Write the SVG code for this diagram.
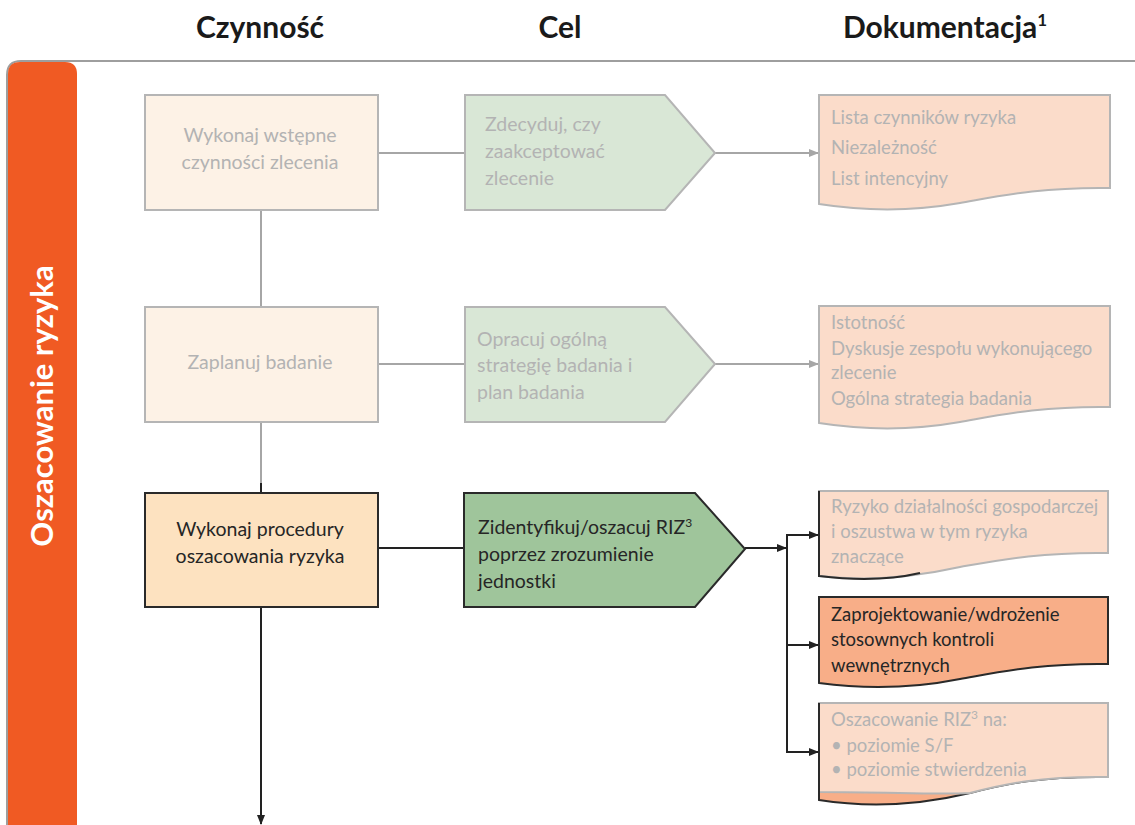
<svg xmlns="http://www.w3.org/2000/svg" width="1135" height="825" viewBox="0 0 1135 825">
  <defs>
    <marker id="arrGray" markerWidth="10" markerHeight="8" refX="9" refY="4" orient="auto" markerUnits="userSpaceOnUse">
      <path d="M0,0 L10,4 L0,8 Z" fill="#a6a6a6"/>
    </marker>
    <marker id="arrDark" markerWidth="10" markerHeight="8" refX="9" refY="4" orient="auto" markerUnits="userSpaceOnUse">
      <path d="M0,0 L10,4 L0,8 Z" fill="#222"/>
    </marker>
  </defs>
  <style>
    .hdr { font-family: Lato, "Open Sans", sans-serif; font-weight: 700; font-size: 30px; fill: #1a1a1a; }
    .t { font-family: Lato, "Open Sans", sans-serif; font-size: 19.5px; }
    .d { font-family: Lato, "Open Sans", sans-serif; font-size: 18.5px; }
    .faded { fill: #b3b3b3; }
    .dark { fill: #262626; }
    .boxFaded { fill: #fdf2e6; stroke: #b5b5b5; stroke-width: 2; }
    .penFaded { fill: #d9e7d6; stroke: #b5b5b5; stroke-width: 2; }
    .docFaded { fill: #fbdcca; stroke: #b5b5b5; stroke-width: 2; }
    .boxActive { fill: #fde2c0; stroke: #2a2a2a; stroke-width: 2; }
    .penActive { fill: #9fc59b; stroke: #2a2a2a; stroke-width: 2; }
    .docActive { fill: #f8ae88; stroke: #2a2a2a; stroke-width: 2; }
    .edge { fill: none; stroke: #2a2a2a; stroke-width: 2; }
    .lnGray { stroke: #a6a6a6; stroke-width: 2; fill: none; }
    .lnDark { stroke: #222; stroke-width: 2; fill: none; }
  </style>

  <rect width="1135" height="825" fill="#ffffff"/>

  <!-- column headers -->
  <g id="headers">
    <text class="hdr" x="260" y="38" text-anchor="middle">Czynność</text>
    <text class="hdr" x="560" y="38" text-anchor="middle">Cel</text>
    <text class="hdr" x="945" y="38" text-anchor="middle">Dokumentacja<tspan font-size="17" dy="-12">1</tspan></text>
  </g>

  <!-- frame and phase bar -->
  <g id="phase">
    <path d="M1140,61 H21 Q7,61 7,75 V830" fill="none" stroke="#9e9e9e" stroke-width="2"/>
    <path d="M8,825 V74 Q8,62 20,62 H65 Q77,62 77,74 V825 Z" fill="#f05a23"/>
    <text x="0" y="0" transform="translate(53,406) rotate(-90)" text-anchor="middle" font-family="Lato, 'Open Sans', sans-serif" font-weight="700" font-size="31" fill="#ffffff">Oszacowanie ryzyka</text>
  </g>

  <!-- connectors -->
  <g id="connectors">
    <line class="lnGray" x1="378" y1="153" x2="465" y2="153"/>
    <line class="lnGray" x1="715" y1="153" x2="818" y2="153" marker-end="url(#arrGray)"/>
    <line class="lnGray" x1="261" y1="210" x2="261" y2="307"/>
    <line class="lnGray" x1="378" y1="364" x2="465" y2="364"/>
    <line class="lnGray" x1="715" y1="364" x2="818" y2="364" marker-end="url(#arrGray)"/>
    <line class="lnGray" x1="261" y1="422" x2="261" y2="484"/>
    <line class="lnDark" x1="261" y1="483" x2="261" y2="493"/>
    <line class="lnDark" x1="378" y1="548" x2="464" y2="548"/>
    <line class="lnDark" x1="745" y1="548" x2="786" y2="548" marker-end="url(#arrDark)"/>
    <line class="lnDark" x1="787" y1="535" x2="787" y2="753"/>
    <line class="lnDark" x1="786" y1="535" x2="818" y2="535" marker-end="url(#arrDark)"/>
    <line class="lnDark" x1="786" y1="645" x2="818" y2="645" marker-end="url(#arrDark)"/>
    <line class="lnDark" x1="786" y1="752" x2="818" y2="752" marker-end="url(#arrDark)"/>
    <line class="lnDark" x1="261" y1="607" x2="261" y2="824" marker-end="url(#arrDark)"/>
  </g>

  <!-- row 1 -->
  <g id="wstepne">
    <rect class="boxFaded" x="145" y="95" width="233" height="115"/>
    <text class="t faded" x="260" y="142" text-anchor="middle">Wykonaj wstępne</text>
    <text class="t faded" x="260" y="169" text-anchor="middle">czynności zlecenia</text>
  </g>
  <g id="akceptacja">
    <path class="penFaded" d="M465,95 H665 L715,153 L665,210 H465 Z"/>
    <text class="t faded" x="485" y="131">Zdecyduj, czy</text>
    <text class="t faded" x="485" y="158">zaakceptować</text>
    <text class="t faded" x="485" y="185">zlecenie</text>
  </g>
  <g id="dok-akceptacja">
    <path class="docFaded" d="M819,95 H1110 V188 C1040,187 1000,196 960,203 C915,211 870,212 819,204 Z"/>
    <text class="d faded" x="831" y="124">Lista czynników ryzyka</text>
    <text class="d faded" x="831" y="154">Niezależność</text>
    <text class="d faded" x="831" y="185">List intencyjny</text>
  </g>

  <!-- row 2 -->
  <g id="planowanie">
    <rect class="boxFaded" x="145" y="307" width="233" height="115"/>
    <text class="t faded" x="260" y="369" text-anchor="middle">Zaplanuj badanie</text>
  </g>
  <g id="strategia">
    <path class="penFaded" d="M465,307 H665 L715,364 L665,422 H465 Z"/>
    <text class="t faded" x="477" y="346">Opracuj ogólną</text>
    <text class="t faded" x="477" y="372">strategię badania i</text>
    <text class="t faded" x="477" y="399">plan badania</text>
  </g>
  <g id="dok-strategia">
    <path class="docFaded" d="M819,306 H1110 V407 C1040,406 1000,415 960,422 C915,430 870,431 819,423 Z"/>
    <text class="d faded" x="831" y="329">Istotność</text>
    <text class="d faded" x="831" y="355">Dyskusje zespołu wykonującego</text>
    <text class="d faded" x="831" y="379">zlecenie</text>
    <text class="d faded" x="831" y="405">Ogólna strategia badania</text>
  </g>

  <!-- row 3 -->
  <g id="procedury">
    <rect class="boxActive" x="145" y="493" width="233" height="114"/>
    <text class="t dark" x="260" y="536" text-anchor="middle">Wykonaj procedury</text>
    <text class="t dark" x="260" y="563" text-anchor="middle">oszacowania ryzyka</text>
  </g>
  <g id="identyfikacja">
    <path class="penActive" d="M464,493 H695 L745,549 L695,607 H464 Z"/>
    <text class="t dark" x="478" y="534">Zidentyfikuj/oszacuj RIZ<tspan font-size="12" dy="-7">3</tspan></text>
    <text class="t dark" x="478" y="561">poprzez zrozumienie</text>
    <text class="t dark" x="478" y="588">jednostki</text>
  </g>
  <g id="dok-ryzyko">
    <path class="docFaded" d="M819,491 H1108 V553 C1040,552 1000,560 960,567 C915,577 870,582 819,576 Z"/>
    <path class="edge" d="M819,491 V576 C860,581 890,580 920,573" stroke="#4a3a30"/>
    <text class="d faded" x="831" y="513">Ryzyko działalności gospodarczej</text>
    <text class="d faded" x="831" y="538">i oszustwa w tym ryzyka</text>
    <text class="d faded" x="831" y="563">znaczące</text>
  </g>
  <g id="dok-kontrole">
    <path class="docActive" d="M819,597 H1108 V664 C1040,663 1000,672 960,679 C915,688 870,690 819,683 Z"/>
    <text class="d dark" x="831" y="621">Zaprojektowanie/wdrożenie</text>
    <text class="d dark" x="831" y="646">stosownych kontroli</text>
    <text class="d dark" x="831" y="672">wewnętrznych</text>
  </g>
  <g id="dok-oszacowanie">
    <path class="docActive" d="M819,703 H1108 V777 C1040,776 1005,784 970,793 C920,805 870,808 819,800 Z"/>
    <path class="docFaded" d="M819,703 H1108 V777 C1040,776 1005,784 970,793 C940,795 890,792 819,792 Z"/>
    <path class="edge" d="M819,703 V800"/>
    <text class="d faded" x="831" y="726">Oszacowanie RIZ<tspan font-size="12" dy="-7">3</tspan><tspan dy="7"> na:</tspan></text>
    <text class="d faded" x="831" y="752">• poziomie S/F</text>
    <text class="d faded" x="831" y="776">• poziomie stwierdzenia</text>
  </g>
</svg>
